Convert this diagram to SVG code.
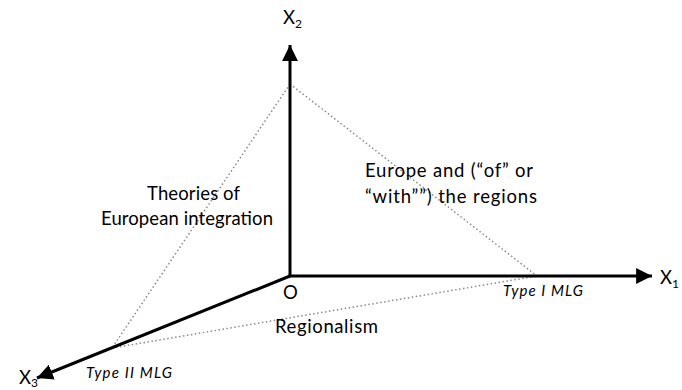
<svg xmlns="http://www.w3.org/2000/svg" width="682" height="390" viewBox="0 0 682 390">
<style>
.ax{stroke:#000;stroke-width:3;fill:none}
.dot{stroke:#8a8a8a;stroke-width:1.5;stroke-dasharray:1.5 2.5;fill:none}
text{font-family:Lato,"Open Sans","Liberation Sans",sans-serif;fill:#000}
.lbl{font-size:18.5px}
.it{font-size:15px;font-style:italic}
.sub{font-size:12px}
</style>
<defs>
<marker id="ah" viewBox="0 0 10 10" refX="10" refY="5" markerWidth="5.3" markerHeight="5.3" orient="auto" markerUnits="strokeWidth">
<path d="M0,0 L10,5 L0,10 Z" fill="#000"/>
</marker>
</defs>
<g id="connectors">
<line class="dot" x1="290" y1="84" x2="112" y2="348"/>
<line class="dot" x1="290" y1="84" x2="537" y2="276"/>
<line class="dot" x1="112" y1="348" x2="537" y2="276"/>
<line id="axis-x2" class="ax" x1="290" y1="277" x2="290" y2="45" marker-end="url(#ah)"/>
<line id="axis-x1" class="ax" x1="288.5" y1="276" x2="652" y2="276" marker-end="url(#ah)"/>
<line id="axis-x3" class="ax" x1="290" y1="276" x2="37" y2="378" marker-end="url(#ah)"/>
</g>
<g id="node-x2"><text class="lbl" x="283" y="24">X<tspan class="sub" dy="4">2</tspan></text></g>
<g id="node-x1"><text class="lbl" x="660" y="284">X<tspan class="sub" dy="4">1</tspan></text></g>
<g id="node-x3"><text class="lbl" x="19" y="384">X<tspan class="sub" dy="3">3</tspan></text></g>
<g id="node-o"><text class="lbl" x="283" y="299">O</text></g>
<g id="node-type1"><text class="it" x="503" y="296" textLength="80">Type I MLG</text></g>
<g id="node-type2"><text class="it" x="86" y="378" textLength="86">Type II MLG</text></g>
<g id="node-regionalism"><text class="lbl" x="275" y="333" textLength="103">Regionalism</text></g>
<g id="node-europe">
<text class="lbl" x="365" y="177" textLength="168">Europe and (“of” or</text>
<text class="lbl" x="365" y="203" textLength="172">“with””) the regions</text>
</g>
<g id="node-theories">
<text class="lbl" x="147" y="200" textLength="93">Theories of</text>
<text class="lbl" x="101" y="225" textLength="172">European integration</text>
</g>
</svg>
